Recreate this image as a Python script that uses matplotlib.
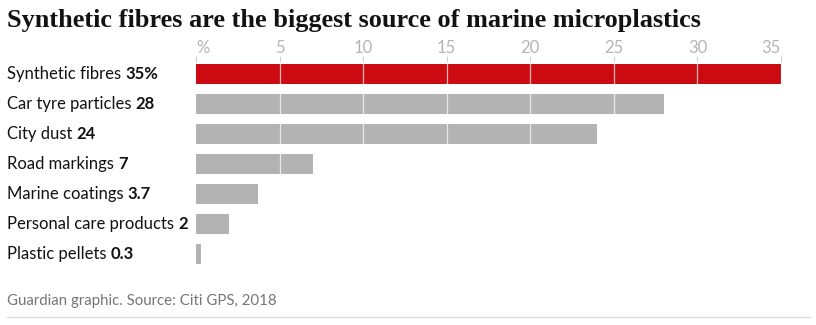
import matplotlib
matplotlib.use("Agg")
import matplotlib.pyplot as plt

categories = ["Synthetic fibres", "Car tyre particles", "City dust", "Road markings",
              "Marine coatings", "Personal care products", "Plastic pellets"]
values = [35, 28, 24, 7, 3.7, 2, 0.3]
value_labels = ["35%", "28", "24", "7", "3.7", "2", "0.3"]
tick_values = [0, 5, 10, 15, 20, 25, 30, 35]
tick_labels = ["%", "5", "10", "15", "20", "25", "30", "35"]
title = "Synthetic fibres are the biggest source of marine microplastics"
source = "Guardian graphic. Source: Citi GPS, 2018"

W, H = 816, 325
fig = plt.figure(figsize=(W / 100, H / 100), dpi=100)
fig.patch.set_facecolor("white")

def px(x, y):
    return x / W, 1 - y / H

# axes in pixels: x 196..781, y 62..270
ax_left, ax_right, ax_top, ax_bot = 196, 781, 62, 270
ax = fig.add_axes([ax_left / W, 1 - ax_bot / H, (ax_right - ax_left) / W, (ax_bot - ax_top) / H])
ax.set_xlim(0, 35)
ax.set_ylim((ax_bot - 74) / 30, (ax_top - 74) / 30)
colors = ["#cc0a11"] + ["#b3b3b3"] * (len(values) - 1)
ax.barh(range(len(values)), values, height=0.667, color=colors, zorder=1)
for t in tick_values[1:]:
    ax.axvline(t, color="white", lw=0.9, alpha=0.7, zorder=2)
ax.set_xticks(tick_values)
ax.set_xticklabels(tick_labels)
ax.xaxis.tick_top()
ax.tick_params(axis="x", length=4.3, width=0.8, color="#d0d0d0", labelcolor="#b5b5b5",
               labelsize=12, pad=0)
xl = ax.get_xticklabels()
for lbl in xl:
    lbl.set_fontfamily("Lato")
xl[0].set_horizontalalignment("left")
xl[-1].set_horizontalalignment("right")
ax.set_yticks([])
for s in ax.spines.values():
    s.set_visible(False)

fig.text(*px(7, 20), title, fontsize=18.9, fontweight="bold", family="Liberation Serif",
         va="center", ha="left", color="#121212")

fig.canvas.draw()
r = fig.canvas.get_renderer()
for i, (c, v) in enumerate(zip(categories, value_labels)):
    y = 74 + 30 * i
    t = fig.text(*px(7, y), c + " ", fontsize=12, family="Lato", va="center", ha="left",
                 color="#121212")
    bb = t.get_window_extent(renderer=r)
    fig.text(bb.x1 / W, 1 - y / H, v, fontsize=12, family="Lato", fontweight="bold",
             va="center", ha="left", color="#121212")

fig.text(*px(7, 301), source, fontsize=10.8, family="Lato", va="center", ha="left",
         color="#767676")
fig.add_artist(plt.Line2D([7 / W, 810 / W], [1 - 317 / H, 1 - 317 / H], color="#dcdcdc", lw=1))

fig.savefig("out.png", dpi=100, facecolor="white")
